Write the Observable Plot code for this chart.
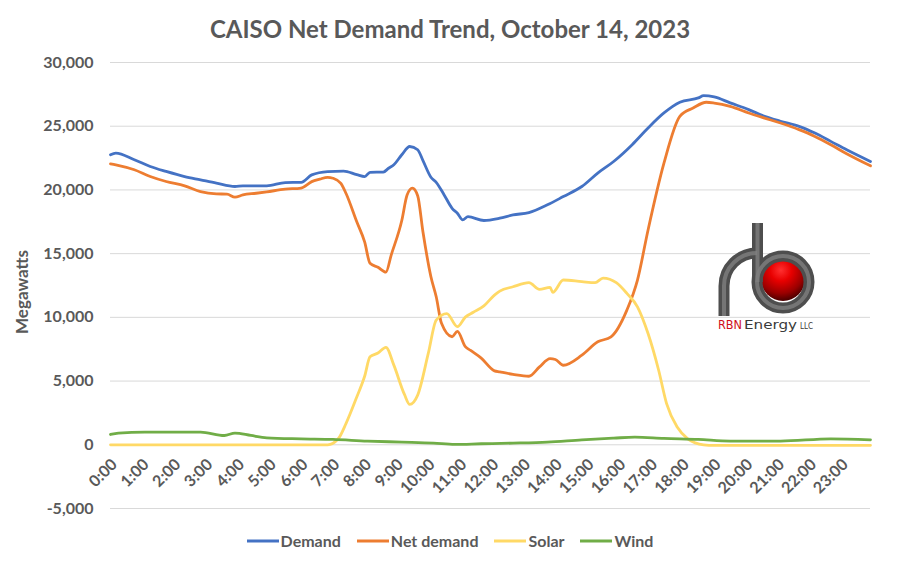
<!DOCTYPE html>
<html><head><meta charset="utf-8">
<script src="https://cdn.jsdelivr.net/npm/d3@7"></script>
<script src="https://cdn.jsdelivr.net/npm/@observablehq/plot@0.6"></script>
<style>
body{margin:0;background:#fff;}
#wrap{position:relative;width:900px;height:565px;overflow:hidden;font-family:Lato,"Open Sans",sans-serif;color:#595959;}
#title{position:absolute;left:0;top:16px;width:900px;text-align:center;font-weight:700;font-size:24px;line-height:26px;}
#chart{position:absolute;left:0;top:50px;}
#legend{position:absolute;left:0;top:531px;width:900px;display:flex;justify-content:center;font-weight:700;font-size:16px;line-height:20px;}
#legend .item{display:flex;align-items:center;margin:0 8px;}
#legend svg{margin-right:2px;}
#logo{position:absolute;left:0;top:0;pointer-events:none;}
</style></head>
<body><div id="wrap">
<div id="title">CAISO Net Demand Trend, October 14, 2023</div>
<div id="chart"></div>
<div id="legend"></div>
<svg id="logo" width="900" height="565">
 <defs>
  <radialGradient id="ball" cx="0.45" cy="0.3" r="0.7">
   <stop offset="0" stop-color="#ff3030"/>
   <stop offset="0.35" stop-color="#e80000"/>
   <stop offset="0.75" stop-color="#9a0000"/>
   <stop offset="1" stop-color="#4a0000"/>
  </radialGradient>
 </defs>
 <text transform="translate(28,292) rotate(-90)" text-anchor="middle" font-family="Lato, 'Open Sans', sans-serif" font-weight="700" font-size="17" fill="#595959">Megawatts</text>
 <circle cx="783" cy="279" r="22" fill="url(#ball)"/>
 <g fill="none" stroke-linecap="butt">
  <path d="M724,316 V286 A33,33 0 0 1 757,253" stroke="#4e4e4e" stroke-width="11"/>
  <circle cx="783" cy="282" r="26" stroke="#4e4e4e" stroke-width="11"/>
  <path d="M757.5,223 V282" stroke="#4e4e4e" stroke-width="11"/>
  <path d="M724,316 V286 A33,33 0 0 1 757,253" stroke="#808080" stroke-width="4" opacity="0.8"/>
  <circle cx="783" cy="282" r="26" stroke="#808080" stroke-width="4" opacity="0.8"/>
  <path d="M757.5,223 V282" stroke="#808080" stroke-width="4" opacity="0.8"/>
 </g>
 <text x="718" y="329" font-family="DejaVu Sans" font-size="13" fill="#d0111b" textLength="24" lengthAdjust="spacingAndGlyphs">RBN</text>
 <text x="744" y="329" font-family="DejaVu Sans" font-size="13" fill="#3a3a3a" textLength="53" lengthAdjust="spacingAndGlyphs">Energy</text>
 <text x="800" y="329" font-family="DejaVu Sans" font-size="8" fill="#3a3a3a" textLength="13" lengthAdjust="spacingAndGlyphs">LLC</text>
</svg>
</div>
<script>
// ---- data ----
const hourLabels = ["0:00","1:00","2:00","3:00","4:00","5:00","6:00","7:00","8:00","9:00","10:00","11:00",
  "12:00","13:00","14:00","15:00","16:00","17:00","18:00","19:00","20:00","21:00","22:00","23:00"];
const yTicks = [-5000, 0, 5000, 10000, 15000, 20000, 25000, 30000];
const seriesNames = ["Demand", "Net demand", "Solar", "Wind"];

const demandTimes = ["0:00","0:10","0:45","1:15","1:45","2:20","2:50","3:20","3:55","4:10","4:55","5:30","6:00","6:20",
  "6:50","7:20","7:45","8:00","8:10","8:35","8:45","8:55","9:10","9:25","9:40","9:50","10:05","10:15","10:30","10:45",
  "10:55","11:05","11:15","11:45","12:15","12:40","13:10","13:45","14:15","14:50","15:20","15:50","16:25","16:55",
  "17:25","17:55","18:30","18:40","19:00","19:30","20:05","20:35","21:05","21:40","22:10","22:40","23:10","23:55"];
const demandValues = [22760,22890,22370,21840,21450,21050,20790,20530,20270,20320,20320,20580,20600,21180,
  21440,21480,21200,21050,21380,21400,21700,21970,22760,23410,23150,22300,21000,20600,19610,18560,
  18170,17650,17900,17600,17780,18040,18220,18830,19480,20270,21320,22230,23550,24860,
  26040,26880,27220,27400,27300,26830,26300,25780,25390,24990,24460,23810,23150,22230];

const netTimes = ["0:00","0:10","0:45","1:15","1:45","2:20","2:50","3:20","3:40","3:55","4:10","4:35","4:55","5:30",
  "6:00","6:20","6:35","6:50","7:00","7:15","7:25","7:45","8:00","8:10","8:25","8:40","8:50","9:10","9:20","9:30",
  "9:40","9:50","10:05","10:15","10:25","10:45","10:55","11:10","11:20","11:40","12:05","12:15","12:40","13:10",
  "13:30","13:50","14:00","14:15","14:50","15:20","15:45","16:15","16:35","16:55","17:25","17:55","18:20","18:45",
  "19:00","19:30","20:05","20:35","21:05","21:40","22:10","22:40","23:10","23:55"];
const netValues = [22050,21970,21580,21050,20660,20320,19870,19690,19670,19430,19610,19740,19850,20060,
  20150,20650,20840,20990,20920,20520,19700,17500,15900,14240,13930,13550,14890,17600,19600,20140,
  19550,16700,13190,11620,9530,8480,8900,7700,7400,6800,5800,5720,5530,5380,
  6110,6760,6690,6240,7030,8080,8470,10570,12930,16860,22100,25770,26430,26880,
  26820,26560,26040,25640,25250,24730,24200,23550,22840,21890];

const solarTimes = ["0:00","6:50","7:10","7:25","7:45","8:00","8:10","8:25","8:40","8:55","9:15","9:25","9:40","10:00",
  "10:15","10:35","10:55","11:10","11:25","11:45","12:05","12:15","12:40","13:10","13:30","13:50","13:55","14:15",
  "14:50","15:15","15:30","15:55","16:15","16:35","16:55","17:15","17:30","17:50","18:10","18:40","19:00","23:55"];
const solarValues = [0,0,470,1700,3750,5400,6900,7200,7650,6250,3950,3170,3900,7170,
  9790,10300,9270,10020,10400,10900,11750,12060,12400,12720,12190,12350,11960,12930,
  12800,12720,13080,12720,11880,10830,8730,5850,3230,1390,470,0,-40,-40];

const windTimes = ["0:00","0:15","1:05","1:45","2:50","3:35","3:55","4:25","4:55","6:00","7:00","8:05","9:10","10:10",
  "10:50","11:40","12:40","13:45","14:50","15:50","16:30","17:25","18:30","19:30","21:05","22:40","23:55"];
const windValues = [810,920,1000,1000,1000,730,920,730,550,470,420,290,210,130,
  30,80,130,210,390,520,600,500,420,290,290,470,390];

// ---- build ----
const hrs = s => { const [h, m] = s.split(":").map(Number); return h + m / 60; };
const colors = ["#4472C4", "#ED7D31", "#FFD966", "#70AD47"];
const seriesData = [[demandTimes, demandValues], [netTimes, netValues], [solarTimes, solarValues], [windTimes, windValues]];
const rows = [];
seriesData.forEach(([ts, vs], i) => ts.forEach((t, j) => rows.push({series: seriesNames[i], t: hrs(t), v: vs[j]})));
const fmt = v => (v < 0 ? "-" : "") + d3.format(",")(Math.abs(v));

const chart = Plot.plot({
  width: 900, height: 475,
  marginLeft: 110, marginRight: 30, marginTop: 12, marginBottom: 17,
  style: {fontFamily: "Lato, 'Open Sans', sans-serif", color: "#595959", background: "#fff", overflow: "visible"},
  x: {domain: [0, hrs("23:55")], axis: null},
  y: {domain: [-5000, 30000], axis: null},
  color: {domain: seriesNames, range: colors},
  marks: [
    Plot.gridY(yTicks, {stroke: "#d9d9d9", strokeOpacity: 1, strokeWidth: 1}),
    Plot.axisY(yTicks, {tickSize: 0, tickPadding: 17, tickFormat: fmt, fontSize: 16, fontWeight: 700, fill: "#595959", label: null}),
    Plot.line(rows, {x: "t", y: "v", z: "series", stroke: "series", strokeWidth: 2.8, curve: "monotone-x"}),
    Plot.text(hourLabels, {x: d => hrs(d), y: () => 0, text: d => d, rotate: -45, textAnchor: "end", lineAnchor: "middle",
      dx: 4, dy: 17, fontSize: 16, fontWeight: 700, fill: "#595959"})
  ]
});
document.getElementById("chart").appendChild(chart);

const legend = d3.select("#legend");
seriesNames.forEach((n, i) => {
  const it = legend.append("div").attr("class", "item");
  const s = it.append("svg").attr("width", 32).attr("height", 6);
  s.append("line").attr("x1", 0).attr("x2", 32).attr("y1", 3).attr("y2", 3).attr("stroke", colors[i]).attr("stroke-width", 3);
  it.append("span").text(n);
});
</script>
</body></html>
